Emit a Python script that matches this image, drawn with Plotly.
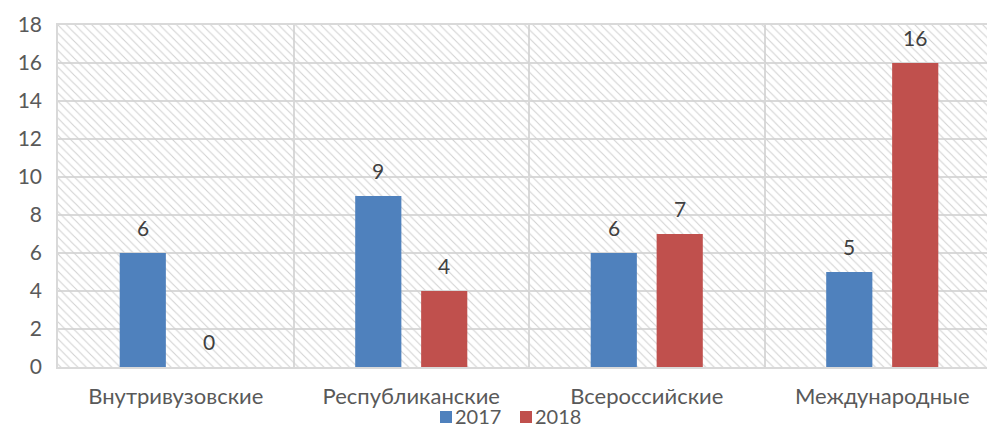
import plotly.graph_objects as go

categories = ["Внутривузовские", "Республиканские", "Всероссийские", "Международные"]
years = ["2017", "2018"]
values_2017 = [6, 9, 6, 5]
values_2018 = [0, 4, 7, 16]
y_ticks = [0, 2, 4, 6, 8, 10, 12, 14, 16, 18]

colors = {"2017": "#4F81BD", "2018": "#C0504D"}
offsets = {"2017": -0.14, "2018": 0.14}
bar_w = 0.196
FONT = "Lato"
TXT = "#595959"

W, H = 987, 426
ML, MR, MT, MB = 58, 0, 25, 59
PW, PH = W - ML - MR, H - MT - MB

fig = go.Figure()

# hatched plot background
fig.add_trace(go.Bar(
    x=[1.5], y=[max(y_ticks)], width=[4], base=0,
    marker=dict(color="#d2d2d2", line=dict(width=0),
                pattern=dict(shape="\\", size=6, solidity=0.18, fillmode="replace")),
    showlegend=False, hoverinfo="skip",
))

pos = list(range(len(categories)))
for name, vals in zip(years, [values_2017, values_2018]):
    xs = [p + offsets[name] for p in pos]
    fig.add_trace(go.Bar(
        x=xs, y=vals, width=bar_w, name=name, showlegend=False,
        marker=dict(color=colors[name], line=dict(width=0)),
    ))
    for x, v in zip(xs, vals):
        fig.add_annotation(x=x, y=v, text=str(v), showarrow=False,
                           yanchor="bottom", yshift=11,
                           font=dict(family=FONT, size=21, color="#404040"))

# legend (drawn as layout items below the plot)
legend_left_px = 440
legend_step_px = 80
legend_y_px = 416
sq = 12
def px_x(p):
    return (p - ML) / PW
def px_y(p):
    return (H - MB - p) / PH
for i, name in enumerate(years):
    x0 = legend_left_px + i * legend_step_px
    fig.add_shape(type="rect", xref="paper", yref="paper",
                  x0=px_x(x0), x1=px_x(x0 + sq),
                  y0=px_y(legend_y_px + 1 + sq / 2), y1=px_y(legend_y_px + 1 - sq / 2),
                  fillcolor=colors[name], line=dict(width=0))
    fig.add_annotation(xref="paper", yref="paper", x=px_x(x0 + sq + 2), y=px_y(legend_y_px),
                       xanchor="left", yanchor="middle", text=name, showarrow=False,
                       borderpad=0, font=dict(family=FONT, size=20, color=TXT))

fig.update_layout(
    width=W, height=H,
    margin=dict(l=ML, r=MR, t=MT, b=MB, autoexpand=False),
    paper_bgcolor="white", plot_bgcolor="white",
    barmode="overlay", showlegend=False,
    font=dict(family=FONT, size=22, color=TXT),
)
fig.update_xaxes(
    range=[-0.5, -0.5 + PW / 235.5], tickvals=pos, ticktext=categories,
    showgrid=False, zeroline=False, ticks="", ticklabelstandoff=9, automargin=False,
    tickfont=dict(size=22),
    showline=True, linecolor="#d9d9d9", linewidth=1.5, mirror=True,
    minor=dict(tick0=0.5, dtick=1, showgrid=True, gridcolor="#d9d9d9", gridwidth=1.5, ticks=""),
)
fig.update_yaxes(
    range=[0, 18], tickvals=y_ticks, showgrid=True, gridcolor="#d9d9d9", gridwidth=1.5,
    zeroline=False, ticks="", ticklabelstandoff=10, automargin=False,
    tickfont=dict(size=21),
    showline=True, linecolor="#d9d9d9", linewidth=1.5, mirror=True,
)

fig.write_html("out.html", config={"displayModeBar": False},
               post_script="document.body.style.margin='0';document.body.style.overflow='hidden';")
